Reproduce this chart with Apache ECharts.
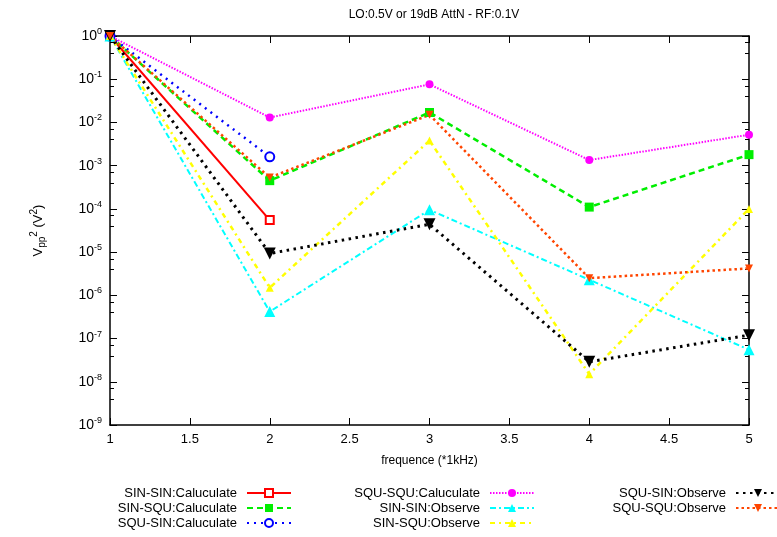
<!DOCTYPE html>
<html><head><meta charset="utf-8">
<script src="https://cdn.jsdelivr.net/npm/echarts@6/dist/echarts.min.js"></script>
<style>html,body{margin:0;padding:0;background:#fff}#c{width:777px;height:537px}</style>
</head><body><div id="c"></div>
<script>
const xValues = [1, 2, 3, 4, 5];
const sinSinCalc = [1, 5.5e-5];
const sinSquCalc = [1, 4.5e-4, 1.7e-2, 1.1e-4, 1.8e-3];
const squSinCalc = [1, 1.6e-3];
const squSquCalc = [1, 1.3e-2, 7.6e-2, 1.35e-3, 5.2e-3];
const sinSinObs = [1, 4.2e-7, 9.5e-5, 2.3e-6, 5.5e-8];
const sinSquObs = [1, 1.5e-6, 3.8e-3, 1.5e-8, 1.0e-4];
const squSinObs = [1, 9.3e-6, 4.4e-5, 2.9e-8, 1.2e-7];
const squSquObs = [1, 5.3e-4, 1.5e-2, 2.5e-6, 4.2e-6];
const seriesNames = ['SIN-SIN:Caluculate','SIN-SQU:Caluculate','SQU-SIN:Caluculate','SQU-SQU:Caluculate','SIN-SIN:Observe','SIN-SQU:Observe','SQU-SIN:Observe','SQU-SQU:Observe'];
const titleText = 'LO:0.5V or 19dB AttN - RF:0.1V';
const xTicks = {min: 1, max: 5, interval: 0.5};
const yRange = {min: 1e-9, max: 1};

function pts(arr){ return arr.map((v,i)=>[xValues[i], v]); }
const FONT = 'Liberation Sans, Arial, sans-serif';

const styles = [
  {c:'#ff0000', type:'solid', w:2, sym:'emptyRect', size:8},
  {c:'#00ee00', type:[6,4], w:2.5, sym:'rect', size:9},
  {c:'#0000ff', type:[2,5], w:2.5, sym:'emptyCircle', size:9},
  {c:'#ff00ff', type:[1.5,1.5], w:2, sym:'circle', size:8},
  {c:'#00ffff', type:[6,3,2,3], w:2, sym:'triangle', size:11},
  {c:'#ffff00', type:[5,4,2,4], w:2.5, sym:'triangle', size:8},
  {c:'#000000', type:[2.5,4.5], w:3, sym:'triangle', size:12, rot:180},
  {c:'#ff4500', type:[2.5,3], w:2.5, sym:'triangle', size:8, rot:180}
];
const dataArr = [sinSinCalc, sinSquCalc, squSinCalc, squSquCalc, sinSinObs, sinSquObs, squSinObs, squSquObs];

const series = dataArr.map((d,i)=>{
  const s = styles[i];
  return {
    name: seriesNames[i], type:'line', data: pts(d),
    symbol: s.sym, symbolSize: s.size, symbolRotate: s.rot||0,
    showAllSymbol: true,
    lineStyle: {color: s.c, width: s.w, type: s.type},
    itemStyle: {color: s.c, borderColor: s.c, borderWidth: s.sym.startsWith('empty')?2:0},
    emphasis: {disabled: true},
    animation: false
  };
});

function legend(names, right){
  return {
    orient:'vertical', align:'right', right: right, top: 486, padding: 0,
    data: names, itemWidth: 44, itemHeight: 10, itemGap: 1,
    textStyle: {fontFamily: FONT, fontSize: 13, lineHeight: 14, color:'#000', padding:[0,5,0,0]},
    selectedMode: false
  };
}

const axisLine = {show:true, lineStyle:{color:'#000', width:1.5}};
const supRich = {sup:{fontSize:9, padding:[0,0,9,0], fontFamily:FONT, color:'#000'}};

const option = {
  backgroundColor:'#fff',
  animation:false,
  title: {text: titleText, left: 429, textAlign:'center', top: 4,
    textStyle:{fontFamily:FONT, fontSize:12, fontWeight:'normal', color:'#000'}},
  grid: {left:110, right:28, top:36, bottom:112},
  legend: [
    legend(seriesNames.slice(0,3), 485),
    legend(seriesNames.slice(3,6), 242),
    legend(seriesNames.slice(6,8), -4)
  ],
  xAxis: [
    {type:'value', min:xTicks.min, max:xTicks.max, interval:xTicks.interval, position:'bottom',
     name:'frequence (*1kHz)', nameLocation:'middle', nameGap:30,
     nameTextStyle:{fontFamily:FONT, fontSize:12, color:'#000'},
     axisLine: axisLine, axisTick:{inside:true, length:7, lineStyle:{color:'#000'}},
     axisLabel:{fontFamily:FONT, fontSize:13, color:'#000', margin:8},
     splitLine:{show:false}},
    {type:'value', min:xTicks.min, max:xTicks.max, interval:xTicks.interval, position:'top',
     axisLine: axisLine, axisTick:{inside:true, length:7, lineStyle:{color:'#000'}},
     axisLabel:{show:false}, splitLine:{show:false}}
  ],
  yAxis: [
    {type:'log', logBase:10, min:yRange.min, max:yRange.max, position:'left',
     name:'V{sub|pp}{sup|2} (V{sup|2})', nameLocation:'middle', nameGap:62, nameRotate:90,
     nameTextStyle:{fontFamily:FONT, fontSize:13, color:'#000',
       rich:{sub:{fontSize:10, padding:[7,0,0,0], fontFamily:FONT, color:'#000'},
             sup:{fontSize:10, padding:[0,0,9,0], fontFamily:FONT, color:'#000'}}},
     axisLine: axisLine,
     axisTick:{inside:true, length:7, lineStyle:{color:'#000'}},
     minorTick:{show:true, splitNumber:3, length:4, lineStyle:{color:'#000'}},
     axisLabel:{fontFamily:FONT, fontSize:14, color:'#000', margin:8,
       formatter: v => '10{sup|' + Math.round(Math.log10(v)) + '}', rich: supRich},
     splitLine:{show:false}, minorSplitLine:{show:false}},
    {type:'log', logBase:10, min:yRange.min, max:yRange.max, position:'right',
     axisLine: axisLine,
     axisTick:{inside:true, length:7, lineStyle:{color:'#000'}},
     minorTick:{show:true, splitNumber:3, length:4, lineStyle:{color:'#000'}},
     axisLabel:{show:false}, splitLine:{show:false}, minorSplitLine:{show:false}}
  ],
  series: series
};
const chart = echarts.init(document.getElementById('c'), null, {renderer:'canvas'});
chart.setOption(option);
</script></body></html>
